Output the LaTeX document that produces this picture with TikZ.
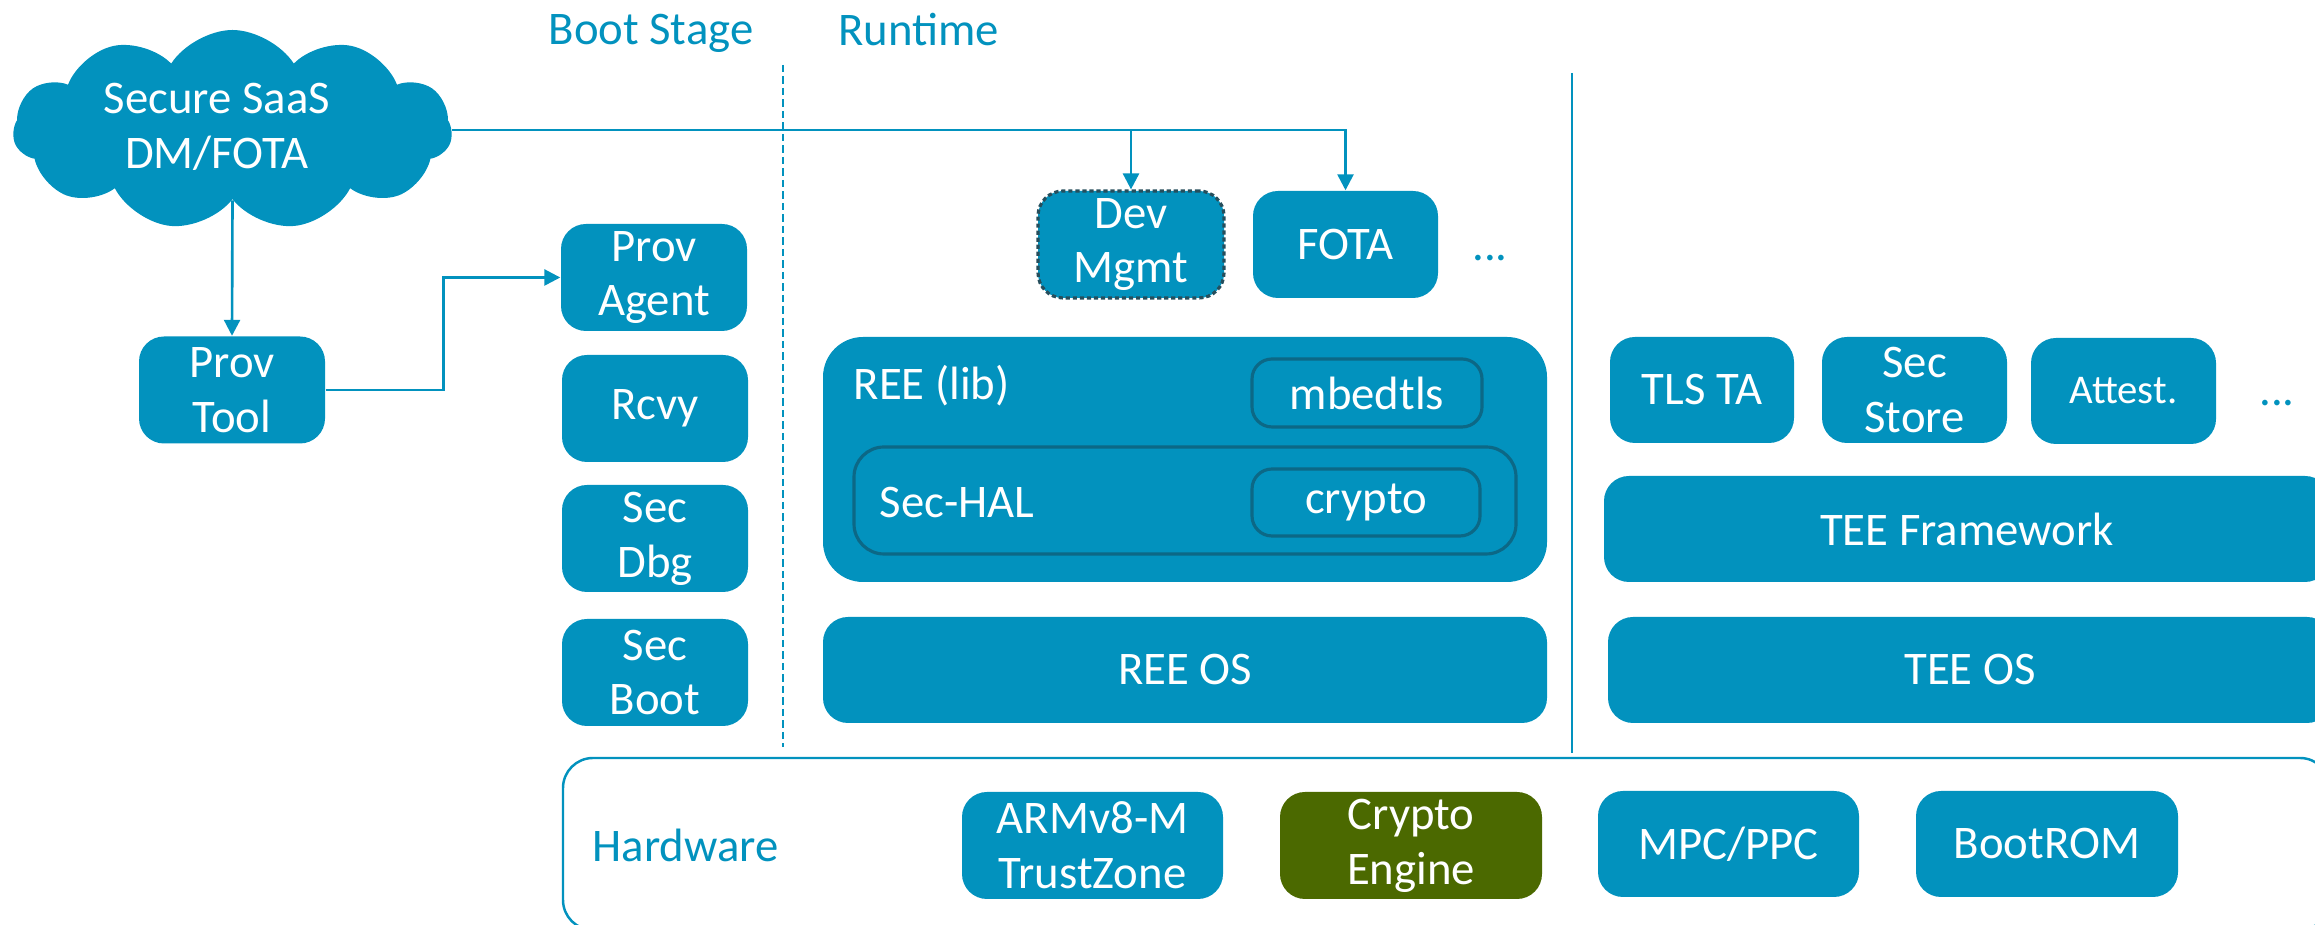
\documentclass[tikz,border=0pt]{standalone}
\usepackage{fontspec}
\setmainfont{Carlito}
\usepackage{tikz}
\usetikzlibrary{positioning}
\usetikzlibrary{shapes.symbols}
\usetikzlibrary{arrows.meta}
\usepackage{xcolor}
\definecolor{armblue}{RGB}{2,146,190}
\definecolor{darkedge}{RGB}{12,104,134}
\definecolor{mgmtedge}{RGB}{38,78,92}
\definecolor{enggreen}{RGB}{75,105,0}
\newcommand{\boxfont}{\fontsize{13.3}{15.6}\selectfont}

\tikzset{
  blk/.style={fill=armblue, text=white, rounded corners=0.25cm, align=center, inner sep=0pt,
    font=\boxfont, minimum width=1.86cm, minimum height=1.07cm},
  innerblk/.style={blk, draw=darkedge, line width=0.9pt, rounded corners=0.2cm},
  lbl/.style={text=armblue, font=\boxfont, inner sep=0pt},
  arr/.style={armblue, line width=0.75pt, -{Triangle[length=0.16cm,width=0.16cm]}}
}

\begin{document}
\begin{tikzpicture}
\useasboundingbox (0,0) rectangle (23.15,-9.25);

%stages
\node[lbl, anchor=base] (bootlbl) at (6.51,-0.45) {Boot Stage};
\node[lbl, anchor=base] (runlbl) at (9.185,-0.46) {Runtime};
\draw[armblue, line width=0.8pt, dash pattern=on 0.075cm off 0.04cm] (7.83,-0.65) -- (7.83,-7.47);
\draw[armblue, line width=0.8pt] (15.72,-0.73) -- (15.72,-7.53);

\node[cloud, cloud puffs=11, cloud puff arc=115, cloud ignores aspect, fill=armblue,
  minimum width=4.39cm, minimum height=2.0cm, inner sep=0pt] (saas) at (2.325,-1.30) {};
\node[text=white, align=center, font=\boxfont, inner sep=0pt] (saastxt) at (2.17,-1.27) {Secure SaaS\\DM/FOTA};

\node[blk] (provtool) at (2.32,-3.90) {Prov\\Tool};
\node[blk] (provagent) at (6.54,-2.775) {Prov\\Agent};
\node[blk] (rcvy) at (6.55,-4.085) {Rcvy};
\node[blk] (secdbg) at (6.55,-5.385) {Sec\\Dbg};
\node[blk] (secboot) at (6.55,-6.725) {Sec\\Boot};

%REE side
\node[blk, draw=mgmtedge, line width=0.9pt, dash pattern=on 1.2pt off 0.8pt] (devmgmt) at (11.31,-2.445) {Dev\\Mgmt};
\node[blk, minimum width=1.85cm] (fota) at (13.455,-2.445) {FOTA};
\node[lbl, anchor=base] (reedots) at (14.90,-2.61) {...};

\node[blk, rounded corners=0.4cm, minimum width=7.24cm, minimum height=2.45cm] (reelib) at (11.85,-4.595) {};
\node[anchor=base west, text=white, font=\boxfont, inner sep=0pt] (reelbl) at (8.53,-4.00) {REE (lib)};
\node[innerblk, minimum width=2.30cm, minimum height=0.68cm] (mbedtls) at (13.67,-3.93) {mbedtls};
\node[innerblk, rounded corners=0.3cm, minimum width=6.62cm, minimum height=1.07cm] (sechal) at (11.85,-5.005) {};
\node[anchor=base west, text=white, font=\boxfont, inner sep=0pt] (sechallbl) at (8.79,-5.18) {Sec-HAL};
\node[innerblk, minimum width=2.28cm, minimum height=0.67cm] (crypto) at (13.66,-5.025) {crypto};
\node[blk, minimum width=7.24cm, minimum height=1.06cm] (reeos) at (11.85,-6.70) {REE OS};

%TEE side
\node[blk, minimum width=1.84cm, minimum height=1.06cm] (tlsta) at (17.02,-3.90) {TLS TA};
\node[blk, minimum width=1.85cm, minimum height=1.06cm] (secstore) at (19.145,-3.90) {Sec\\Store};
\node[blk, minimum width=1.85cm, minimum height=1.06cm, font=\fontsize{11.6}{14}\selectfont] (attest) at (21.235,-3.91) {Attest.};
\node[lbl, anchor=base] (teedots) at (22.77,-4.06) {...};
\node[blk, minimum width=7.26cm, minimum height=1.06cm] (teefw) at (19.67,-5.29) {TEE Framework};
\node[blk, minimum width=7.24cm, minimum height=1.06cm] (teeos) at (19.70,-6.70) {TEE OS};

%hardware
\node[draw=armblue, line width=0.7pt, rounded corners=0.3cm, minimum width=17.67cm, minimum height=1.72cm, inner sep=0pt] (hwbox) at (14.465,-8.44) {};
\node[lbl, anchor=base west] (hwlbl) at (5.92,-8.62) {Hardware};
\node[blk, minimum width=2.61cm] (armtz) at (10.925,-8.455) {ARMv8-M\\TrustZone};
\node[blk, minimum width=2.62cm, fill=enggreen] (cryptoeng) at (14.11,-8.455) {Crypto\\Engine};
\node[blk, minimum width=2.61cm, minimum height=1.06cm] (mpcppc) at (17.285,-8.44) {MPC/PPC};
\node[blk, minimum width=2.62cm, minimum height=1.06cm] (bootrom) at (20.47,-8.44) {BootROM};

\draw[arr] (saas.south) -- (provtool.north);
\draw[arr] (provtool.east) -- ++(1.18,0) |- (provagent.west);
\draw[arr] (saas.east) -| (fota.north);
\draw[arr] (saas.east -| devmgmt.north) -- (devmgmt.north);
\end{tikzpicture}
\end{document}
